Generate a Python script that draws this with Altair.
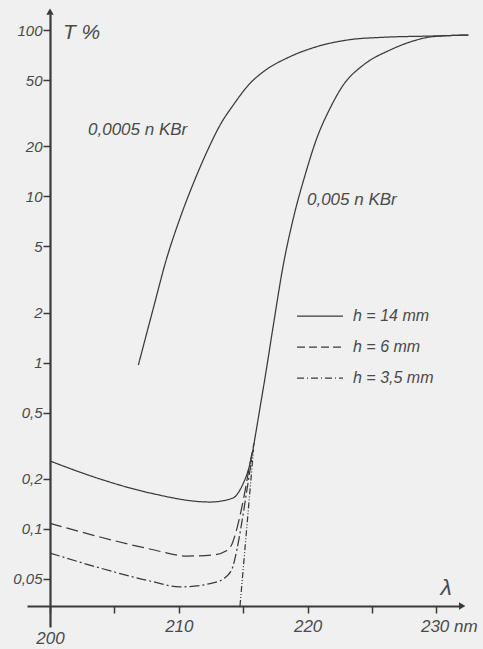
import altair as alt
import pandas as pd

# ---------------- data ----------------
# 0,0005 n KBr
A_NM = [206.86, 208.02, 209.06, 210.09, 211.39, 212.42, 213.20, 214.23, 215.53, 216.56,
        218.63, 220.71, 223.29, 225.88, 229.63, 232.48]
A_T = [0.967, 2.12, 4.24, 7.37, 13.4, 20.3, 26.8, 35.4, 47.8, 56.1,
       69.1, 79.4, 87.5, 90.4, 92.0, 93.3]

# h = 14 mm (lower part) continuing into the 0,005 n KBr curve
H14_NM = [200.0, 203.88, 207.76, 212.42, 214.21, 214.60, 214.98, 215.37, 215.68, 215.99, 216.30, 216.69]
H14_T = [0.256, 0.1996, 0.1644, 0.1451, 0.1534, 0.1644, 0.1862, 0.2229, 0.2782, 0.3826, 0.5333, 0.808]

B_NM = [217.34, 218.11, 218.89, 219.80, 220.71, 221.74, 222.77, 224.33, 226.40, 228.47, 229.63, 232.48]
B_T = [1.68, 3.86, 7.37, 13.4, 22.3, 33.8, 46.7, 61.6, 75.8, 87.1, 91.1, 93.3]

# h = 6 mm
H6_NM = [200.0, 203.88, 207.76, 210.64, 212.66, 213.66, 214.13, 214.52, 214.83, 215.14, 215.53, 215.84]
H6_T = [0.108, 0.0894, 0.0757, 0.0687, 0.0697, 0.0736, 0.0811, 0.1012, 0.1281, 0.1689, 0.249, 0.3284]

# h = 3,5 mm
H35_NM = [200.0, 203.88, 207.76, 210.09, 212.66, 213.82, 214.21, 214.52, 214.91, 215.30, 215.69]
H35_T = [0.0716, 0.0582, 0.0486, 0.0448, 0.0473, 0.0528, 0.0598, 0.0757, 0.1116, 0.1738, 0.2706]

# steep dash-dot-dot continuation down to the axis
EXT_NM = [214.75, 215.8]
EXT_T = [0.0344, 0.30]

Y_TICKS = [0.05, 0.1, 0.2, 0.5, 1, 2, 5, 10, 20, 50, 100]
X_TICKS = [200, 205, 210, 215, 220, 225, 230]

SERIES = ["c0005", "h14", "h6", "h35", "ext"]
LEGEND_LABELS = ["h = 14 mm", "h =  6 mm", "h = 3,5 mm"]
LABEL_A = "0,0005 n KBr"
LABEL_B = "0,005 n KBr"
Y_TITLE = "T %"
X_TITLE = "λ"

# ---------------- styling ----------------
INK = "#3a3a3a"
TXT = "#4a4a4a"
FONT = "Liberation Sans"
BG = "#f0f0f0"

frames = [
    pd.DataFrame({"series": "c0005", "nm": A_NM, "T": A_T}),
    pd.DataFrame({"series": "h14", "nm": H14_NM + B_NM, "T": H14_T + B_T}),
    pd.DataFrame({"series": "h6", "nm": H6_NM, "T": H6_T}),
    pd.DataFrame({"series": "h35", "nm": H35_NM, "T": H35_T}),
    pd.DataFrame({"series": "ext", "nm": EXT_NM, "T": EXT_T}),
]
df = pd.concat(frames, ignore_index=True)

x_scale = alt.Scale(domain=[198.214, 231.83], nice=False, zero=False)
y_scale = alt.Scale(type="log", domain=[0.02571, 124.8], nice=False)

x_axis = alt.Axis(
    values=X_TICKS, title=None, grid=False, offset=-21,
    domainColor=INK, domainWidth=2, tickColor=INK, tickWidth=1.5, tickSize=7,
    labelExpr="datum.value % 10 == 0 ? (datum.value == 230 ? '230 nm' : datum.label) : ''",
    labelFont=FONT, labelFontSize=17, labelFontStyle="italic", labelColor=TXT,
    labelPadding={"condition": {"test": "datum.value == 200", "value": 17}, "value": 5},
    labelAlign={"condition": {"test": "datum.value == 230", "value": "left"}, "value": "center"},
    labelOffset={"condition": {"test": "datum.value == 230", "value": -16}, "value": 0},
    labelFlush=False, labelOverlap=False, labelBound=False,
)
y_axis = alt.Axis(
    values=Y_TICKS, title=None, grid=False, offset=-23,
    domainColor=INK, domainWidth=2.2, tickColor=INK, tickWidth=1.5, tickSize=7,
    labelExpr="replace(toString(datum.value), '.', ',')",
    labelFont=FONT, labelFontSize=15, labelFontStyle="italic", labelColor=TXT,
    labelPadding=1, labelFlush=False, labelOverlap=False, labelBound=False,
)


def X(**kw):
    return alt.X(scale=x_scale, axis=x_axis, **kw)


def Y(**kw):
    return alt.Y(scale=y_scale, axis=y_axis, **kw)


curves = alt.Chart(df).mark_line(interpolate="monotone", strokeWidth=1.25, color=INK).encode(
    x=X(field="nm", type="quantitative"),
    y=Y(field="T", type="quantitative"),
    detail="series:N",
    strokeDash=alt.StrokeDash(
        "series:N",
        scale=alt.Scale(domain=SERIES, range=[[1, 0], [1, 0], [12, 5], [10, 3, 2, 3], [6, 2, 1, 2, 1, 2]]),
        legend=None,
    ),
)

one = pd.DataFrame({"k": [0]})

arrow_y = alt.Chart(one).mark_point(shape="triangle-up", filled=True, size=55, color=INK, opacity=1).encode(
    x=X(datum=200, type="quantitative"), y=Y(datum=129, type="quantitative"))
arrow_x = alt.Chart(one).mark_point(shape="triangle-right", filled=True, size=55, color=INK, opacity=1).encode(
    x=X(datum=232.0, type="quantitative"), y=Y(datum=0.0344, type="quantitative"))


def note(text, nm, t, size, align="left"):
    return alt.Chart(pd.DataFrame({"label": [text]})).mark_text(
        font=FONT, fontSize=size, fontStyle="italic", color=TXT, align=align, baseline="middle"
    ).encode(
        x=X(datum=nm, type="quantitative"), y=Y(datum=t, type="quantitative"), text="label:N")


notes = [
    note(LABEL_A, 202.95, 25.0, 17),
    note(LABEL_B, 219.95, 9.5, 17),
    note(Y_TITLE, 201.0, 96.0, 21),
    note(X_TITLE, 230.75, 0.0441, 23, align="center"),
]

legend_layers = []
legend_dashes = [[1, 0], [8, 4], [7, 3, 1, 3]]
for i, (lab, dash) in enumerate(zip(LEGEND_LABELS, legend_dashes)):
    ypix = 302 + i * 31
    legend_layers.append(
        alt.Chart(one).mark_rule(color=INK, strokeWidth=1.25, strokeDash=dash).encode(
            x=alt.value(270), x2=alt.value(316), y=alt.value(ypix)))
    legend_layers.append(
        alt.Chart(pd.DataFrame({"label": [lab]})).mark_text(
            font=FONT, fontSize=16, fontStyle="italic", color=TXT, align="left", baseline="middle"
        ).encode(x=alt.value(326), y=alt.value(ypix), text="label:N"))

chart = alt.layer(curves, arrow_y, arrow_x, *notes, *legend_layers).properties(
    width=433, height=613,
    autosize=alt.AutoSizeParams(type="none"),
    padding={"left": 27, "top": 14, "right": 23, "bottom": 22},
    background=BG,
).configure_view(stroke=None)

chart.save("out.html", embed_options={"renderer": "svg", "actions": False})
